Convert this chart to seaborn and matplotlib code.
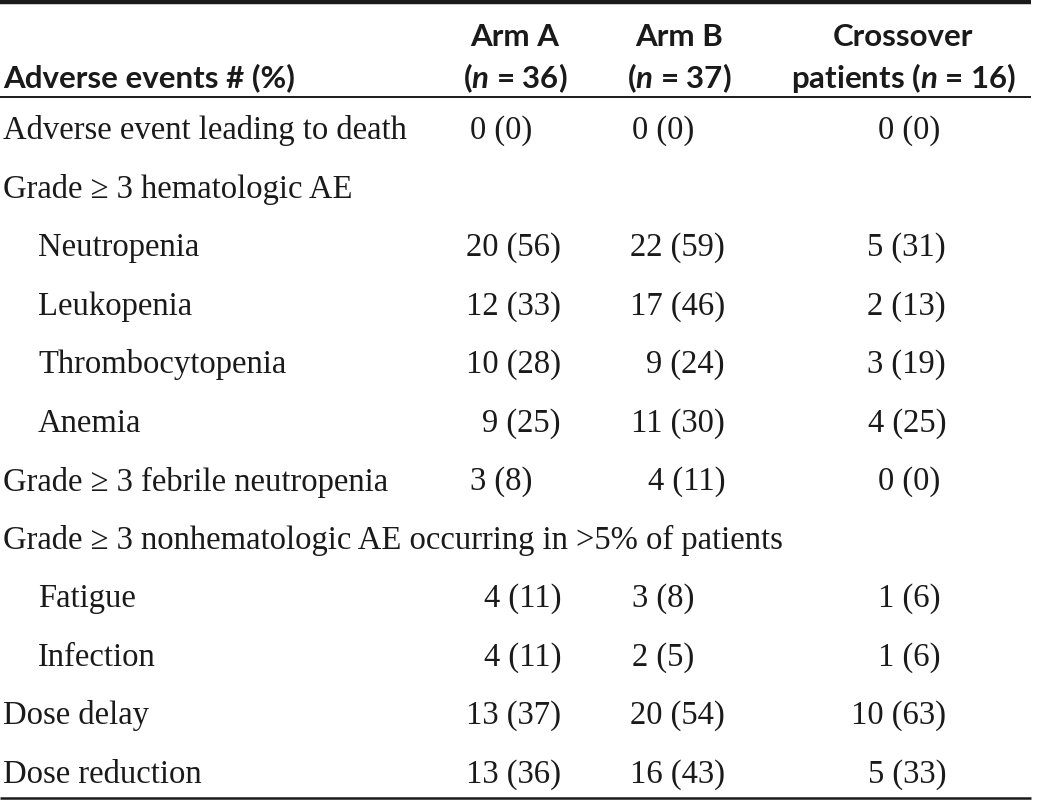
import numpy as np
import pandas as pd
import seaborn as sns
import matplotlib.pyplot as plt

# table content
events = ["Adverse event leading to death", "Grade \u2265 3 hematologic AE", "Neutropenia", "Leukopenia",
          "Thrombocytopenia", "Anemia", "Grade \u2265 3 febrile neutropenia",
          "Grade \u2265 3 nonhematologic AE occurring in >5% of patients",
          "Fatigue", "Infection", "Dose delay", "Dose reduction"]
indented = [False, False, True, True, True, True, False, False, True, True, False, False]
arm_a = ["0 (0)", "", "20 (56)", "12 (33)", "10 (28)", "9 (25)", "3 (8)", "", "4 (11)", "4 (11)", "13 (37)", "13 (36)"]
arm_b = ["0 (0)", "", "22 (59)", "17 (46)", "9 (24)", "11 (30)", "4 (11)", "", "3 (8)", "2 (5)", "20 (54)", "16 (43)"]
crossover = ["0 (0)", "", "5 (31)", "2 (13)", "3 (19)", "4 (25)", "0 (0)", "", "1 (6)", "1 (6)", "10 (63)", "5 (33)"]
col_titles = ["Arm A", "Arm B", "Crossover"]
col_subtitles = [("(", "36)"), ("(", "37)"), ("patients (", "16)")]

df = pd.DataFrame({"event": events, "indent": indented, "A": arm_a, "B": arm_b, "C": crossover})

sns.set_theme(style="white")
plt.rcParams["mathtext.fontset"] = "custom"
plt.rcParams["mathtext.it"] = "Lato:italic:bold"
plt.rcParams["mathtext.rm"] = "Lato:bold"

serif = ["Liberation Serif", "DejaVu Serif"]
sans = ["Lato", "DejaVu Sans"]
ink = "#1a1a1a"

fig = plt.figure(figsize=(10.37, 8.04), dpi=100)
ax = fig.add_axes([0, 0, 1, 1])
ax.set_xlim(0, 1037)
ax.set_ylim(804, 0)
ax.axis("off")

# rules
ax.plot([0, 1031], [3, 3], color=ink, lw=3.2, solid_capstyle="butt")
ax.plot([0, 1031], [98, 98], color=ink, lw=1.4, solid_capstyle="butt")
ax.plot([0, 1031], [799, 799], color=ink, lw=1.8, solid_capstyle="butt")

# header
hdr_size = 22.5
ax.text(3, 78, "Adverse events # (%)", family=sans, fontweight="bold", fontsize=hdr_size,
        ha="left", va="center", color=ink)
col_centers = [515, 679, 903]
for xc, title, (pre, n) in zip(col_centers, col_titles, col_subtitles):
    ax.text(xc, 37, title, family=sans, fontweight="bold", fontsize=hdr_size,
            ha="center", va="center", color=ink)
    ax.text(xc, 78, pre + r"$\mathit{n}$ = " + n, family=sans, fontweight="bold",
            fontsize=hdr_size, ha="center", va="center", color=ink)

# body rows
body_size = 23.5
col_left = [470, 632, 878]
col_right = [561, 725, 946]
row_y = 131 + np.arange(len(df)) * 58.5
for i, row in df.iterrows():
    y = row_y[i]
    ax.text(38 if row["indent"] else 3, y, row["event"], family=serif, fontsize=body_size,
            ha="left", va="center", color=ink)
    for j, key in enumerate(["A", "B", "C"]):
        val = row[key]
        if not val:
            continue
        # two-digit percentages line up on the right, the short ones on the left
        pct = val.split("(")[1].rstrip(")")
        if len(pct) >= 2:
            ax.text(col_right[j], y, val, family=serif, fontsize=body_size, ha="right",
                    va="center", color=ink)
        else:
            ax.text(col_left[j], y, val, family=serif, fontsize=body_size, ha="left",
                    va="center", color=ink)

fig.savefig("out.png", dpi=100, facecolor="white")
